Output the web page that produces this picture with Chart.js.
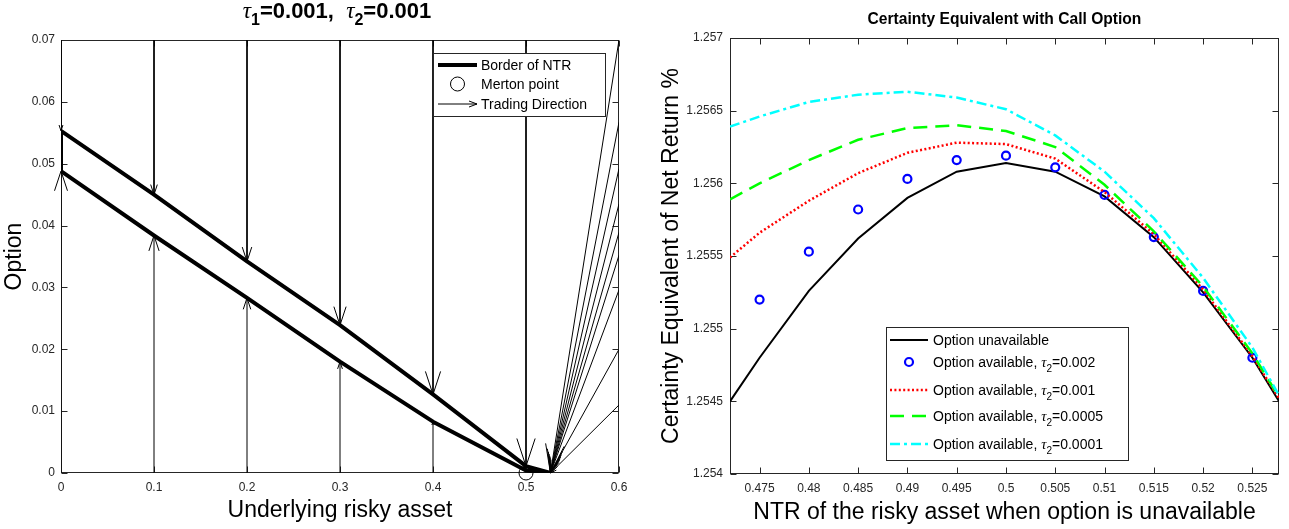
<!DOCTYPE html>
<html>
<head>
<meta charset="utf-8">
<script src="https://cdn.jsdelivr.net/npm/chart.js@4.4.1/dist/chart.umd.min.js"></script>
<style>
  html, body { margin: 0; padding: 0; background: #fff; }
  #wrap { position: relative; width: 1289px; height: 529px; overflow: hidden; background: #fff; }
  canvas { position: absolute; top: 0; }
  #ntrChart { left: 0; }
  #ceChart { left: 640px; }
</style>
</head>
<body>
<div id="wrap">
  <canvas id="ntrChart" width="640" height="529"></canvas>
  <canvas id="ceChart" width="649" height="529"></canvas>
</div>
<script>
// ---------------- No-trade region (left panel) ----------------
const ntrX     = [0, 0.1, 0.2, 0.3, 0.4, 0.5, 0.5263];
const ntrUpper = [0.0553, 0.0450, 0.0342, 0.0239, 0.0127, 0.0011, 0];
const ntrLower = [0.0488, 0.0384, 0.0283, 0.0180, 0.0083, 0.0004, 0];
const mertonX  = [0.5];
const mertonY  = [0];

// selling: from the top of the grid down to the upper border
const sellX    = [0, 0.1, 0.2, 0.3, 0.4, 0.5];
const sellFrom = [0.07, 0.07, 0.07, 0.07, 0.07, 0.07];
const sellTo   = [0.0553, 0.0450, 0.0342, 0.0239, 0.0127, 0.0011];
// buying: from zero option holding up to the lower border
const buyX     = [0, 0.1, 0.2, 0.3, 0.4];
const buyFrom  = [0, 0, 0, 0, 0];
const buyTo    = [0.0488, 0.0384, 0.0283, 0.0180, 0.0083];
// far-right states, all moving into the corner of the region
const fanFromX = [0.6, 0.6, 0.6, 0.6, 0.6, 0.6, 0.6, 0.6, 0.6];
const fanFromY = [0.07, 0.0567, 0.0492, 0.0435, 0.0389, 0.0352, 0.0296, 0.0200, 0.0110];
const fanToX   = 0.5263;
const fanToY   = 0;

const ntrXTicks      = [0, 0.1, 0.2, 0.3, 0.4, 0.5, 0.6];
const ntrXTickLabels = ['0', '0.1', '0.2', '0.3', '0.4', '0.5', '0.6'];
const ntrYTicks      = [0, 0.01, 0.02, 0.03, 0.04, 0.05, 0.06, 0.07];
const ntrYTickLabels = ['0', '0.01', '0.02', '0.03', '0.04', '0.05', '0.06', '0.07'];

// ---------------- Certainty equivalent (right panel) ----------------
const ntrGrid     = [0.472, 0.475, 0.48, 0.485, 0.49, 0.495, 0.5, 0.505, 0.51, 0.515, 0.52, 0.525, 0.5277];
const ceNoOption  = [1.2545, 1.2548, 1.25526, 1.25562, 1.2559, 1.25608, 1.25614, 1.25608, 1.25591, 1.25563, 1.25525, 1.2548, 1.2545];
const ceTauX      = [0.475, 0.48, 0.485, 0.49, 0.495, 0.5, 0.505, 0.51, 0.515, 0.52, 0.525];
const ceTau0002   = [1.2552, 1.25553, 1.25582, 1.25603, 1.25616, 1.25619, 1.25611, 1.25592, 1.25563, 1.25526, 1.2548];
const ceTau0001   = [1.25549, 1.25566, 1.25588, 1.25607, 1.25621, 1.25628, 1.25627, 1.25617, 1.25594, 1.25565, 1.25527, 1.25481, 1.25452];
const ceTau00005  = [1.25589, 1.2560, 1.25616, 1.2563, 1.25638, 1.2564, 1.25636, 1.25625, 1.25599, 1.25567, 1.25529, 1.25483, 1.25453];
const ceTau00001  = [1.25639, 1.25646, 1.25656, 1.25661, 1.25663, 1.25659, 1.25651, 1.25633, 1.25608, 1.25576, 1.25535, 1.25487, 1.25454];

const ceXTicks      = [0.475, 0.48, 0.485, 0.49, 0.495, 0.5, 0.505, 0.51, 0.515, 0.52, 0.525];
const ceXTickLabels = ['0.475', '0.48', '0.485', '0.49', '0.495', '0.5', '0.505', '0.51', '0.515', '0.52', '0.525'];
const ceYTicks      = [1.254, 1.2545, 1.255, 1.2555, 1.256, 1.2565, 1.257];
const ceYTickLabels = ['1.254', '1.2545', '1.255', '1.2555', '1.256', '1.2565', '1.257'];

// ---------------- shared styling ----------------
const AXIS = '#262626';
const SANS = '"Liberation Sans", Arial, Helvetica, sans-serif';
Chart.defaults.font.family = SANS;
Chart.defaults.color = AXIS;

const pts = (xs, ys) => xs.map((x, i) => ({ x, y: ys[i] }));

// text with "_c" subscripts and italic greek letters
function drawRich(ctx, text, x, yMid, size, weight, align) {
  const runs = [];
  for (let i = 0; i < text.length; i++) {
    let ch = text[i], kind = 'n';
    if (ch === '_') { ch = text[++i]; kind = 's'; }
    else if (/[\u03b1-\u03c9]/.test(ch)) kind = 'g';
    const last = runs[runs.length - 1];
    if (last && last.kind === kind) last.t += ch; else runs.push({ t: ch, kind });
  }
  const fontOf = k => k === 'g' ? `italic ${size * 1.05}px "Liberation Serif", "DejaVu Serif", serif`
    : k === 's' ? `${weight} ${Math.round(size * 0.72)}px ${SANS}`
    : `${weight} ${size}px ${SANS}`;
  let total = 0;
  runs.forEach(r => { ctx.font = fontOf(r.kind); r.w = ctx.measureText(r.t).width; total += r.w; });
  let cx = align === 'center' ? x - total / 2 : align === 'right' ? x - total : x;
  const base = yMid + size * 0.36;
  ctx.textAlign = 'left';
  ctx.textBaseline = 'alphabetic';
  runs.forEach(r => {
    ctx.font = fontOf(r.kind);
    ctx.fillText(r.t, cx, base + (r.kind === 's' ? size * 0.32 : 0));
    cx += r.w;
  });
}

function arrowHead(ctx, x0, y0, x1, y1, h, w) {
  const dx = x1 - x0, dy = y1 - y0, L = Math.hypot(dx, dy);
  if (!L) return;
  const ux = dx / L, uy = dy / L;
  const bx = x1 - ux * h, by = y1 - uy * h;
  ctx.beginPath();
  ctx.moveTo(bx - uy * w, by + ux * w);
  ctx.lineTo(x1, y1);
  ctx.lineTo(bx + uy * w, by - ux * w);
  ctx.stroke();
}

// box around the axes with inward ticks on all four sides
const framePlugin = {
  id: 'frame',
  beforeDatasetsDraw(chart) {
    const { ctx, chartArea: a, scales } = chart;
    const L = 6;
    const l = Math.round(a.left) + 0.5, r = Math.round(a.right) - 0.5;
    const t = Math.round(a.top) + 0.5, b = Math.round(a.bottom) - 0.5;
    ctx.save();
    ctx.strokeStyle = AXIS;
    ctx.lineWidth = 1;
    ctx.strokeRect(l, t, r - l, b - t);
    ctx.beginPath();
    scales.x.ticks.forEach(tk => {
      const px = Math.round(scales.x.getPixelForValue(tk.value)) + 0.5;
      ctx.moveTo(px, b); ctx.lineTo(px, b - L);
      ctx.moveTo(px, t); ctx.lineTo(px, t + L);
    });
    scales.y.ticks.forEach(tk => {
      const py = Math.round(scales.y.getPixelForValue(tk.value)) + 0.5;
      ctx.moveTo(l, py); ctx.lineTo(l + L, py);
      ctx.moveTo(r, py); ctx.lineTo(r - L, py);
    });
    ctx.stroke();
    ctx.restore();
  }
};

// title (with subscripts) and a legend box drawn from the datasets' own styles
const annotPlugin = {
  id: 'annot',
  afterDraw(chart, args, opts) {
    const { ctx, chartArea: a } = chart;
    ctx.save();
    ctx.fillStyle = '#000';
    drawRich(ctx, opts.title, (a.left + a.right) / 2 + opts.titleDx, opts.titleY, opts.titleSize, 'bold', 'center');

    const lg = opts.legend;
    const bx = lg.anchor === 'topright' ? a.right - lg.dx - lg.w : a.left + lg.dx;
    const by = lg.anchor === 'topright' ? a.top + lg.dy : a.bottom - lg.dy - lg.h;
    ctx.fillStyle = '#fff';
    ctx.fillRect(bx, by, lg.w, lg.h);
    ctx.strokeStyle = AXIS;
    ctx.lineWidth = 1;
    ctx.strokeRect(Math.round(bx) + 0.5, Math.round(by) + 0.5, lg.w, lg.h);
    lg.rows.forEach(row => {
      const ds = chart.data.datasets[row.ds];
      const y = by + row.dy;
      const x0 = bx + lg.s0, x1 = bx + lg.s1;
      ctx.save();
      if (row.kind === 'marker') {
        ctx.beginPath();
        ctx.arc((x0 + x1) / 2, y, ds.pointRadius, 0, Math.PI * 2);
        ctx.lineWidth = ds.pointBorderWidth;
        ctx.strokeStyle = ds.pointBorderColor;
        ctx.stroke();
      } else {
        ctx.beginPath();
        ctx.setLineDash(ds.borderDash || []);
        ctx.lineWidth = ds.borderWidth;
        ctx.strokeStyle = ds.borderColor;
        ctx.moveTo(x0, y); ctx.lineTo(x1, y);
        ctx.stroke();
        ctx.setLineDash([]);
        if (row.kind === 'arrow') {
          ctx.lineWidth = 1;
          arrowHead(ctx, x0, y, x1, y, 8, 3);
        }
      }
      ctx.restore();
      ctx.fillStyle = '#000';
      drawRich(ctx, ds.label, bx + lg.tx, y, lg.size, 'normal', 'left');
    });
    ctx.restore();
  }
};

// ---------------- left panel ----------------
const arrows = [];
sellX.forEach((x, i) => arrows.push([x, sellFrom[i], x, sellTo[i]]));
buyX.forEach((x, i) => arrows.push([x, buyFrom[i], x, buyTo[i]]));
fanFromX.forEach((x, i) => arrows.push([x, fanFromY[i], fanToX, fanToY]));

const arrowPath = [];
arrows.forEach(a => arrowPath.push({ x: a[0], y: a[1] }, { x: a[2], y: a[3] }, { x: a[2], y: null }));

// closed outline: upper border out to the corner, lower border back, then the x = 0 edge
const borderPath = pts(ntrX, ntrUpper)
  .concat(pts(ntrX, ntrLower).reverse())
  .concat([{ x: ntrX[0], y: ntrUpper[0] }]);

const arrowHeadPlugin = {
  id: 'arrowHeads',
  afterDatasetsDraw(chart) {
    const { ctx, scales: { x, y } } = chart;
    ctx.save();
    ctx.strokeStyle = '#000';
    ctx.lineWidth = 1;
    arrows.forEach(a => {
      const x0 = x.getPixelForValue(a[0]), y0 = y.getPixelForValue(a[1]);
      const x1 = x.getPixelForValue(a[2]), y1 = y.getPixelForValue(a[3]);
      const h = 0.065 * Math.hypot(x1 - x0, y1 - y0);
      arrowHead(ctx, x0, y0, x1, y1, h, h * 0.33);
    });
    ctx.restore();
  }
};

const fixedTicks = (vals) => axis => { axis.ticks = vals.map(v => ({ value: v })); };

new Chart(document.getElementById('ntrChart'), {
  type: 'scatter',
  data: {
    datasets: [
      { label: 'Border of NTR', data: borderPath, showLine: true, borderColor: '#000', borderWidth: 4,
        borderJoinStyle: 'round', pointRadius: 0, tension: 0, order: 1 },
      { label: 'Merton point', data: pts(mertonX, mertonY), showLine: false, pointRadius: 7,
        pointBorderWidth: 1, pointBorderColor: '#000', pointBackgroundColor: 'rgba(0,0,0,0)',
        clip: false, order: 0 },
      { label: 'Trading Direction', data: arrowPath, showLine: true, spanGaps: false, borderColor: '#000',
        borderWidth: 1, pointRadius: 0, tension: 0, order: 2 }
    ]
  },
  options: {
    responsive: false,
    animation: false,
    events: [],
    layout: { padding: { top: 40, right: 21, left: 0, bottom: 0 } },
    plugins: {
      legend: { display: false },
      tooltip: { enabled: false },
      annot: {
        title: '\u03c4_1=0.001,  \u03c4_2=0.001', titleY: 10, titleSize: 22, titleDx: -3,
        legend: {
          anchor: 'topright', dx: 14, dy: 13, w: 172, h: 63, s0: 5, s1: 44, tx: 48, size: 14,
          rows: [ { ds: 0, kind: 'line', dy: 12 }, { ds: 1, kind: 'marker', dy: 31 }, { ds: 2, kind: 'arrow', dy: 51 } ]
        }
      }
    },
    scales: {
      x: {
        type: 'linear', min: 0, max: 0.6,
        afterBuildTicks: fixedTicks(ntrXTicks),
        afterFit: s => { s.height = 56; },
        grid: { display: false, drawTicks: false },
        border: { display: false },
        ticks: { font: { size: 12 }, color: AXIS, padding: 7, maxRotation: 0,
                 callback: (v, i) => ntrXTickLabels[i] },
        title: { display: true, text: 'Underlying risky asset', font: { size: 23 }, color: '#000',
                 padding: { top: 0, bottom: 5 } }
      },
      y: {
        type: 'linear', min: 0, max: 0.07,
        afterBuildTicks: fixedTicks(ntrYTicks),
        afterFit: s => { s.width = 61; },
        grid: { display: false, drawTicks: false },
        border: { display: false },
        ticks: { font: { size: 12 }, color: AXIS, padding: 6,
                 callback: (v, i) => ntrYTickLabels[i] },
        title: { display: true, text: 'Option', font: { size: 23 }, color: '#000',
                 padding: { top: 1, bottom: 0 } }
      }
    }
  },
  plugins: [framePlugin, arrowHeadPlugin, annotPlugin]
});

// ---------------- right panel ----------------
new Chart(document.getElementById('ceChart'), {
  type: 'scatter',
  data: {
    datasets: [
      { label: 'Option unavailable', data: pts(ntrGrid, ceNoOption), showLine: true, borderColor: '#000',
        borderWidth: 2, pointRadius: 0, tension: 0, order: 5 },
      { label: 'Option available, \u03c4_2=0.002', data: pts(ceTauX, ceTau0002), showLine: false,
        pointRadius: 4, pointBorderWidth: 2.2, pointBorderColor: '#0000ff',
        pointBackgroundColor: 'rgba(0,0,0,0)', order: 4 },
      { label: 'Option available, \u03c4_2=0.001', data: pts(ntrGrid, ceTau0001), showLine: true,
        borderColor: '#ff0000', borderWidth: 2.5, borderDash: [2, 2.4], pointRadius: 0, tension: 0, order: 3 },
      { label: 'Option available, \u03c4_2=0.0005', data: pts(ntrGrid, ceTau00005), showLine: true,
        borderColor: '#00ff00', borderWidth: 2.5, borderDash: [14, 8], pointRadius: 0, tension: 0, order: 2 },
      { label: 'Option available, \u03c4_2=0.0001', data: pts(ntrGrid, ceTau00001), showLine: true,
        borderColor: '#00ffff', borderWidth: 2.5, borderDash: [10, 4, 3, 4], pointRadius: 0, tension: 0, order: 1 }
    ]
  },
  options: {
    responsive: false,
    animation: false,
    events: [],
    layout: { padding: { top: 38, right: 10, left: 0, bottom: 0 } },
    plugins: {
      legend: { display: false },
      tooltip: { enabled: false },
      annot: {
        title: 'Certainty Equivalent with Call Option', titleY: 18, titleSize: 15.6, titleDx: 0,
        legend: {
          anchor: 'bottomleft', dx: 156, dy: 14, w: 242, h: 133, s0: 4, s1: 42, tx: 47, size: 14,
          rows: [ { ds: 0, kind: 'line', dy: 13 }, { ds: 1, kind: 'marker', dy: 35 },
                  { ds: 2, kind: 'line', dy: 63 }, { ds: 3, kind: 'line', dy: 89 }, { ds: 4, kind: 'line', dy: 117 } ]
        }
      }
    },
    scales: {
      x: {
        type: 'linear', min: 0.472, max: 0.5277,
        afterBuildTicks: fixedTicks(ceXTicks),
        afterFit: s => { s.height = 55; },
        grid: { display: false, drawTicks: false },
        border: { display: false },
        ticks: { font: { size: 12 }, color: AXIS, padding: 7, maxRotation: 0,
                 callback: (v, i) => ceXTickLabels[i] },
        title: { display: true, text: 'NTR of the risky asset when option is unavailable', font: { size: 23 },
                 color: '#000', padding: { top: 0, bottom: 3 } }
      },
      y: {
        type: 'linear', min: 1.254, max: 1.257,
        afterBuildTicks: fixedTicks(ceYTicks),
        afterFit: s => { s.width = 90; },
        grid: { display: false, drawTicks: false },
        border: { display: false },
        ticks: { font: { size: 12 }, color: AXIS, padding: 7,
                 callback: (v, i) => ceYTickLabels[i] },
        title: { display: true, text: 'Certainty Equivalent of Net Return %', font: { size: 23 },
                 color: '#000', padding: { top: 18, bottom: 0 } }
      }
    }
  },
  plugins: [framePlugin, annotPlugin]
});
</script>
</body>
</html>
